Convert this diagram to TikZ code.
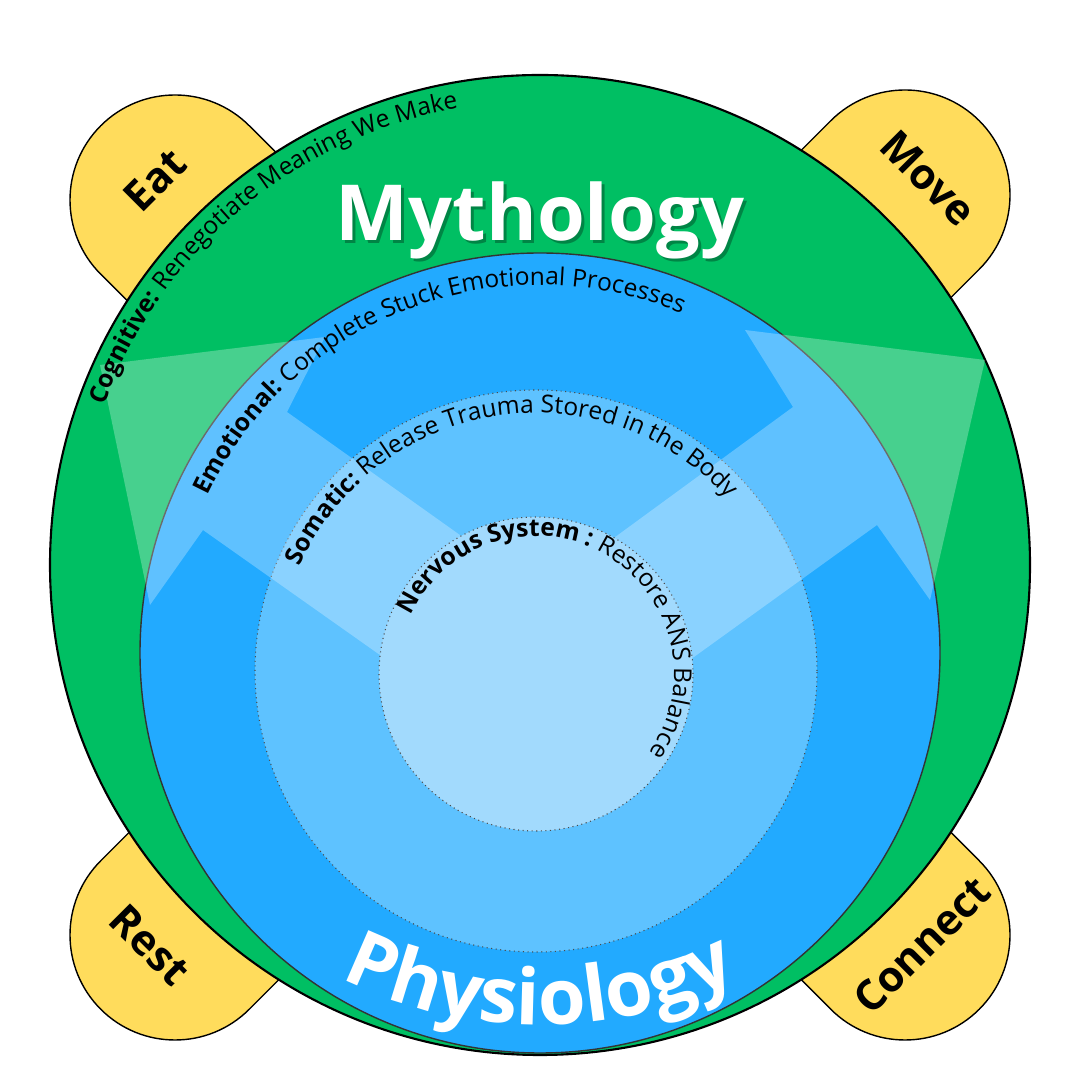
\documentclass[tikz,border=0pt]{standalone}
\usepackage{fontspec}
\setmainfont{Open Sans}
\usetikzlibrary{decorations.text}

\definecolor{mythgreen}{HTML}{00BF63}
\definecolor{emoblue}{HTML}{22AAFF}
\definecolor{somablue}{HTML}{5EC2FF}
\definecolor{nervblue}{HTML}{A2DAFD}
\definecolor{lobeyellow}{HTML}{FFDC5C}

\tikzset{
  lobe/.style={fill=lobeyellow,draw=black,line width=0.4pt},
  lobelabel/.style={font=\fontsize{12}{14}\selectfont\bfseries},
  ring/.style={draw=black!70,line width=0.3pt,densely dotted},
  arctext/.style={decorate,decoration={text along path,text align=center,
    text color=black}},
  bigtext/.style={decorate,decoration={text along path,text align=center,
    text color=white}}
}

\begin{document}
\begin{tikzpicture}[line width=0.6pt]
\useasboundingbox (0,0) rectangle (10.8,10.8);

% yellow lobes behind the big circle
\foreach \cx/\cy/\rot/\nm in {1.75/8.80/45/eat,9.05/8.85/-45/move,1.75/1.45/135/rest,9.05/1.45/-135/connect}{
  \begin{scope}[shift={(\cx,\cy)},rotate=\rot]
  \draw[lobe] (-1.05,0) arc (180:0:1.05) -- (1.05,-3) -- (-1.05,-3) -- cycle;
  \end{scope}
}
\node[lobelabel,rotate=45] (eat) at (1.55,9.00) {Eat};
\node[lobelabel,rotate=-45] (move) at (9.28,9.02) {Move};
\node[lobelabel,rotate=-45] (rest) at (1.50,1.35) {Rest};
\node[lobelabel,rotate=45] (connect) at (9.22,1.35) {Connect};

% the rings
\draw[fill=mythgreen,draw=black] (5.40,5.15) circle (4.90);
\draw[fill=emoblue,draw=black!80,line width=0.4pt] (5.40,4.27) circle (4.00);
\draw[ring,fill=somablue] (5.36,4.09) circle (2.81);

% translucent arrows
\fill[white,opacity=0.28] (5.40,3.12) -- (2.03,5.50) -- (1.50,4.75) -- (1.00,7.15)
  -- (3.25,7.43) -- (2.87,6.68) -- (5.40,4.88) -- (7.93,6.73) -- (7.45,7.50)
  -- (9.85,7.20) -- (9.30,4.80) -- (8.77,5.55) -- cycle;

\draw[ring,fill=nervblue] (5.36,4.06) circle (1.57);

% ring texts
\path[arctext,decoration={text={|\fontsize{7}{8}\selectfont\bfseries|Cognitive: |\fontsize{7}{8}\selectfont|Renegotiate Meaning We Make}}]
  (5.40,5.15) ++(210:4.64) arc (210:50:4.64);
\path[arctext,decoration={text={|\fontsize{7}{8}\selectfont\bfseries|Emotional: |\fontsize{7}{8}\selectfont|Complete Stuck Emotional Processes}}]
  (5.40,4.27) ++(191:3.68) arc (191:31:3.68);
\path[arctext,decoration={text={|\fontsize{7}{8}\selectfont\bfseries|Somatic: |\fontsize{7}{8}\selectfont|Release Trauma Stored in the Body}}]
  (5.36,4.09) ++(179:2.58) arc (179:19:2.58);
\path[arctext,decoration={text={|\fontsize{7}{8}\selectfont\bfseries|Nervous System : |\fontsize{7}{8}\selectfont|Restore ANS Balance}}]
  (5.36,4.06) ++(180:1.38) arc (180:-60:1.38);

% big words
\node[font=\fontsize{22}{26}\selectfont\bfseries,text=black,opacity=0.3] (mythshadow) at (5.43,8.57) {Mythology};
\node[font=\fontsize{22}{26}\selectfont\bfseries,text=white] (myth) at (5.40,8.60) {Mythology};
\path[bigtext,decoration={text={|\fontsize{22}{26}\selectfont\bfseries|Physiology}}]
  (5.40,5.00) ++(240:4.45) arc (240:300:4.45);
\end{tikzpicture}
\end{document}
